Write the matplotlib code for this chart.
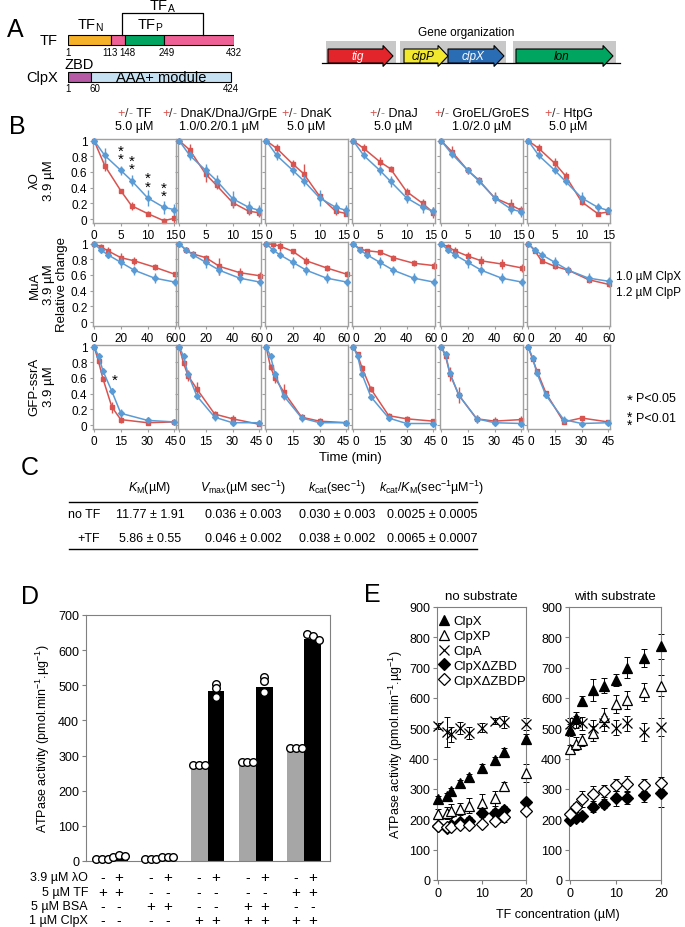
import numpy as np
import matplotlib
matplotlib.use("Agg")
import matplotlib.pyplot as plt
from matplotlib.patches import Rectangle, FancyArrow
from matplotlib.lines import Line2D
from matplotlib.transforms import blended_transform_factory, ScaledTranslation

plt.rcParams['font.family'] = ['Liberation Sans', 'DejaVu Sans']
plt.rcParams['mathtext.fontset'] = 'custom'
plt.rcParams['mathtext.rm'] = 'Liberation Sans'
plt.rcParams['mathtext.it'] = 'Liberation Sans:italic'
plt.rcParams['mathtext.bf'] = 'Liberation Sans:bold'

W, H = 685, 928
RED = '#D9534F'
BLUE = '#5B9BD5'
GRID = '#A0A0A0'

# ---------------- data ----------------
# panel A
tf_bounds = [1, 113, 148, 249, 432]
tf_colors = ['#F6B128', '#EF6196', '#00A560', '#EF6196']
clpx_bounds = [1, 60, 424]
clpx_colors = ['#B65AA6', '#C6E2F2']
gene_names = ['tig', 'clpP', 'clpX', 'lon']
gene_colors = ['#E2242B', '#F2E82E', '#2B6DB5', '#00A560']
gene_text = ['white', 'black', 'white', 'black']
gene_start = [328, 404, 448, 516]
gene_len = [65, 44, 56, 97]
operon_spans = [(326, 396), (400, 506), (513, 616)]

# panel B
chaps = ['TF', 'DnaK/DnaJ/GrpE', 'DnaK', 'DnaJ', 'GroEL/GroES', 'HtpG']
chap_conc = ['5.0 µM', '1.0/0.2/0.1 µM', '5.0 µM', '5.0 µM', '1.0/2.0 µM', '5.0 µM']

lo_t = [0, 2, 5, 7, 10, 13, 15]
lo_minus = [[1, .81, .62, .49, .27, .15, .12],
            [1, .81, .62, .49, .26, .15, .11],
            [1, .81, .62, .49, .27, .15, .11],
            [1, .81, .62, .48, .27, .15, .10],
            [1, .83, .62, .49, .27, .13, .09],
            [1, .81, .62, .48, .27, .15, .11]]
lo_plus = [[1, .68, .36, .17, .07, -.02, .01],
           [1, .88, .57, .43, .21, .10, .08],
           [1, .90, .70, .58, .29, .10, .07],
           [1, .90, .73, .64, .35, .20, .08],
           [1, .86, .62, .50, .27, .18, .11],
           [1, .90, .71, .55, .22, .07, .09]]
lo_minus_err = [[0, .09, .06, .07, .10, .08, .07],
                [0, .06, .08, .07, .10, .08, .07],
                [0, .06, .06, .07, .10, .07, .07],
                [0, .05, .06, .07, .07, .07, .06],
                [0, .05, .04, .05, .06, .06, .06],
                [0, .05, .04, .05, .07, .06, .04]]
lo_plus_err = [[0, .07, .02, .05, .03, .03, .06],
               [0, .07, .10, .05, .07, .05, .05],
               [0, .05, .05, .12, .04, .05, .03],
               [0, .06, .06, .04, .05, .06, .07],
               [0, .07, .04, .04, .07, .08, .06],
               [0, .06, .07, .05, .04, .03, .02]]

mua_t = [0, 5, 10, 20, 30, 45, 60]
mua_minus = [[1, .92, .86, .76, .66, .56, .51]] * 5 + [[1, .92, .86, .76, .66, .56, .52]]
mua_plus = [[1, .96, .91, .82, .78, .70, .61],
            [1, .92, .87, .82, .71, .63, .59],
            [1, .99, .97, .90, .78, .69, .61],
            [1, .93, .91, .89, .82, .75, .72],
            [1, .96, .91, .84, .78, .74, .69],
            [1, .91, .78, .71, .66, .54, .48]]
mua_minus_err = [[0, .03, .04, .07, .06, .06, .05]] * 6
mua_plus_err = [[0, .03, .05, .06, .05, .04, .03],
                [0, .03, .03, .04, .11, .06, .05],
                [0, .01, .06, .03, .05, .04, .04],
                [0, .03, .02, .03, .04, .04, .05],
                [0, .03, .04, .05, .06, .06, .05],
                [0, .02, .03, .04, .03, .03, .03]]

gfp_t = [[0, 2.5, 5, 10, 15, 30, 45]] + [[0, 2.5, 5, 10, 20, 30, 45]] * 5
gfp_minus = [[1, .88, .69, .43, .15, .06, .04],
             [1, .88, .65, .37, .10, .03, .03],
             [1, .88, .65, .37, .09, .03, .03],
             [1, .88, .65, .36, .09, .02, .02],
             [1, .90, .66, .38, .08, .03, .02],
             [1, .86, .66, .38, .07, .02, .03]]
gfp_plus = [[1, .81, .59, .23, .07, .03, .04],
            [1, .79, .63, .46, .14, .08, .01],
            [1, .74, .60, .42, .10, .05, .03],
            [1, .90, .73, .46, .12, .08, .05],
            [1, .88, .65, .38, .08, .05, .07],
            [1, .84, .69, .41, .04, .09, .04]]
gfp_minus_err = [[0, .02, .03, .04, .05, .02, .02],
                 [0, .02, .03, .04, .05, .03, .02],
                 [0, .02, .03, .04, .05, .03, .02],
                 [0, .02, .03, .04, .04, .02, .02],
                 [0, .02, .03, .04, .05, .02, .02],
                 [0, .02, .03, .03, .04, .02, .02]]
gfp_plus_err = [[0, .03, .03, .07, .04, .02, .03],
                [0, .04, .07, .09, .04, .05, .02],
                [0, .04, .06, .10, .04, .04, .02],
                [0, .03, .03, .04, .03, .04, .03],
                [0, .03, .09, .10, .05, .05, .04],
                [0, .02, .03, .03, .02, .02, .02]]

# panel C
tbl_rows = ['no TF', '+TF']
tbl_km = ['11.77 ± 1.91', '5.86 ± 0.55']
tbl_vmax = ['0.036 ± 0.003', '0.046 ± 0.002']
tbl_kcat = ['0.030 ± 0.003', '0.038 ± 0.002']
tbl_eff = ['0.0025 ± 0.0005', '0.0065 ± 0.0007']

# panel D
d_gray = [5, 5, 272, 280, 320]
d_black = [14, 10, 485, 495, 632]
d_gray_pts = [[5, 5, 5], [5, 5, 5], [272, 272, 272], [281, 281, 281], [322, 322, 322]]
d_black_pts = [[12, 16, 14], [10, 11, 11], [503, 493, 467], [525, 513, 481], [646, 640, 629]]
cond_labels = ['3.9 µM λO', '5 µM TF', '5 µM BSA', '1 µM ClpX']
cond_signs = [['-', '+'] * 5,
              ['+', '+', '-', '-', '-', '-', '-', '-', '+', '+'],
              ['-', '-', '+', '+', '-', '-', '+', '+', '-', '-'],
              ['-', '-', '-', '-', '+', '+', '+', '+', '+', '+']]

# panel E
e_names = ['ClpX', 'ClpXP', 'ClpA', 'ClpXΔZBD', 'ClpXΔZBDP']
e_x_no = [0, 2, 3, 5, 7, 10, 13, 15, 20]
e_no = [[267, 278, 292, 320, 339, 369, 394, 422, 466],
        [218, 221, 229, 234, 245, 254, 270, 309, 354],
        [508, 488, 480, 500, 486, 502, 524, 522, 513],
        [177, 173, 181, 190, 196, 221, 221, 232, 256],
        [178, 175, 176, 180, 182, 185, 193, 207, 229]]
e_no_err = [[10, 10, 10, 10, 10, 12, 12, 12, 15],
            [15, 20, 20, 20, 25, 30, 25, 15, 30],
            [10, 50, 25, 20, 20, 15, 10, 20, 20],
            [10, 10, 10, 10, 12, 12, 12, 12, 10],
            [8, 10, 10, 10, 10, 10, 10, 15, 10]]
e_x_with = [0, 1.25, 2.5, 5, 7.5, 10, 12.5, 16.25, 20]
e_with = [[495, 533, 590, 626, 640, 660, 700, 733, 770],
          [431, 450, 461, 483, 538, 579, 594, 619, 641],
          [515, 522, 516, 502, 516, 502, 516, 488, 505],
          [199, 203, 212, 240, 251, 270, 270, 281, 286],
          [218, 240, 267, 284, 292, 312, 317, 314, 320]]
e_with_err = [[20, 20, 15, 35, 25, 20, 35, 30, 40],
              [15, 20, 20, 25, 30, 30, 30, 30, 35],
              [20, 20, 20, 25, 25, 25, 25, 30, 30],
              [8, 10, 10, 15, 15, 25, 20, 25, 45],
              [10, 15, 25, 25, 20, 20, 25, 20, 20]]
e_markers = ['^', '^', 'x', 'D', 'D']
e_fill = ['k', 'white', 'k', 'k', 'white']
e_ms = [7.5, 7.5, 7.5, 6, 6]


def box(l, t, r, b):
    return [l / W, 1 - b / H, (r - l) / W, (b - t) / H]


def ftext(x, y, s, **kw):
    return fig.text(x / W, 1 - y / H, s, **kw)


fig = plt.figure(figsize=(6.85, 9.28), dpi=100)

# ---------------- A ----------------
ftext(15, 30, 'A', fontsize=18, ha='center', va='center')
axa = fig.add_axes(box(68, 0, 234, 100))
axa.set_xlim(1, 432)
axa.set_ylim(100, 0)
axa.axis('off')
for s, e, c in zip(tf_bounds[:-1], tf_bounds[1:], tf_colors):
    axa.add_patch(Rectangle((s, 36), e - s, 10, fc=c, ec='k', lw=0.8))
tf_lab_shift = [0, -4, 8, 8, 0]
for b, d in zip(tf_bounds, tf_lab_shift):
    axa.text(b + d, 53, str(b), fontsize=7, ha='center', va='center')
axa.plot([140, 140, 352, 352], [36, 14, 14, 36], color='k', lw=0.9)
axa.text(246, 7, 'TF$_\\mathrm{A}$', fontsize=10.5, ha='center', va='center')
axa.text(58, 26, 'TF$_\\mathrm{N}$', fontsize=10.5, ha='center', va='center')
axa.text(214, 26, 'TF$_\\mathrm{P}$', fontsize=10.5, ha='center', va='center')
axa.text(-25, 41, 'TF', fontsize=10.5, ha='right', va='center')
for s, e, c in zip(clpx_bounds[:-1], clpx_bounds[1:], clpx_colors):
    axa.add_patch(Rectangle((s, 73), e - s, 10, fc=c, ec='k', lw=0.8))
for b in clpx_bounds:
    axa.text(b if b != 60 else 70, 89, str(b), fontsize=7, ha='center', va='center')
axa.text(-25, 78, 'ClpX', fontsize=10.5, ha='right', va='center')
axa.text(30, 65, 'ZBD', fontsize=10.5, ha='center', va='center')
axa.text(242, 78, 'AAA+ module', fontsize=10.5, ha='center', va='center')

axg = fig.add_axes(box(318, 25, 625, 75))
axg.set_xlim(318, 625)
axg.set_ylim(75, 25)
axg.axis('off')
ftext(466, 33, 'Gene organization', fontsize=8.5, ha='center', va='center')
for l, r in operon_spans:
    axg.add_patch(Rectangle((l, 42), r - l, 22, fc='#C8C8C8', ec='none', zorder=1))
axg.plot([322, 620], [64, 64], color='k', lw=0.9, zorder=2)
for x0, ln, c, nm, tc in zip(gene_start, gene_len, gene_colors, gene_names, gene_text):
    axg.add_patch(FancyArrow(x0, 57, ln, 0, width=14, head_width=21, head_length=10,
                             length_includes_head=True, fc=c, ec='k', lw=0.8, zorder=3))
    axg.text(x0 + (ln - 6) / 2, 57, nm, fontsize=8.5, style='italic', color=tc,
             ha='center', va='center', zorder=4)

# ---------------- B ----------------
ftext(17, 127, 'B', fontsize=18, ha='center', va='center')
col_left = [93, 178, 265, 352, 440, 527]
col_w = 83
row_top = [140, 243, 346]
row_h = 84
row_ts = [[lo_t] * 6, [mua_t] * 6, gfp_t]
row_minus = [lo_minus, mua_minus, gfp_minus]
row_plus = [lo_plus, mua_plus, gfp_plus]
row_minus_err = [lo_minus_err, mua_minus_err, gfp_minus_err]
row_plus_err = [lo_plus_err, mua_plus_err, gfp_plus_err]
row_xlim = [(-0.2, 15.3), (-0.8, 61), (-0.6, 46)]
row_xticks = [[0, 5, 10, 15], [0, 20, 40, 60], [0, 15, 30, 45]]
axes_b = []
for r in range(3):
    row_axes = []
    for c in range(6):
        ax = fig.add_axes(box(col_left[c], row_top[r], col_left[c] + col_w, row_top[r] + row_h))
        t = row_ts[r][c]
        ax.errorbar(t, row_minus[r][c], yerr=row_minus_err[r][c], color=BLUE, marker='D',
                    ms=3, lw=1.1, elinewidth=1, capsize=0, zorder=3, clip_on=False)
        ax.errorbar(t, row_plus[r][c], yerr=row_plus_err[r][c], color=RED, marker='s',
                    ms=3.3, lw=1.1, elinewidth=1, capsize=0, zorder=2, clip_on=False)
        ax.set_xlim(*row_xlim[r])
        ax.set_ylim(-0.05, 1.02)
        ax.set_xticks(row_xticks[r])
        ax.set_yticks([0, 0.2, 0.4, 0.6, 0.8, 1])
        ax.set_yticklabels(['0', '0.2', '0.4', '0.6', '0.8', '1'])
        for sp in ax.spines.values():
            sp.set_color(GRID)
            sp.set_linewidth(1)
        ax.tick_params(colors=GRID, labelcolor='k', labelsize=8.5, length=2.5, width=0.8, pad=1.5)
        if c > 0:
            ax.tick_params(labelleft=False)
        # nudge the end labels so neighbouring panels do not collide
        xlabs = ax.get_xticklabels()
        if c > 0:
            xlabs[0].set_transform(xlabs[0].get_transform() + ScaledTranslation(2.5 / 100, 0, fig.dpi_scale_trans))
        if c < 5:
            xlabs[-1].set_transform(xlabs[-1].get_transform() + ScaledTranslation(-2.5 / 100, 0, fig.dpi_scale_trans))
        row_axes.append(ax)
    axes_b.append(row_axes)

# significance stars
ax0 = axes_b[0][0]
for i in [2, 3, 4, 5]:
    ax0.text(lo_t[i], lo_minus[0][i] + 0.2, '*\n*', fontsize=11, ha='center', va='center',
             linespacing=0.5)
axes_b[2][0].text(gfp_t[0][3] + 1.5, gfp_minus[0][3] + 0.15, '*', fontsize=11, ha='center', va='center')

# column titles
title_groups = []
for c in range(6):
    cx = col_left[c] + col_w / 2
    pieces = [('+', RED), ('/', '#333333'), ('-', BLUE), (' ' + chaps[c], 'k')]
    texts = [ftext(cx, 117, s, color=col, fontsize=9, ha='left', va='baseline') for s, col in pieces]
    title_groups.append((cx, texts))
    ftext(cx, 127, chap_conc[c], fontsize=9, ha='center', va='center')

# row labels
ftext(42, 181, 'λO\n3.9 µM', fontsize=9.5, rotation=90, ha='center', va='center', linespacing=1.3)
ftext(42, 285, 'MuA\n3.9 µM', fontsize=9.5, rotation=90, ha='center', va='center', linespacing=1.3)
ftext(42, 387, 'GFP-ssrA\n3.9 µM', fontsize=9.5, rotation=90, ha='center', va='center', linespacing=1.3)
ftext(62, 285, 'Relative change', fontsize=9.5, rotation=90, ha='center', va='center')
ftext(350, 458, 'Time (min)', fontsize=9.5, ha='center', va='center')
ftext(616, 285, '1.0 µM ClpX\n1.2 µM ClpP', fontsize=8.5, ha='left', va='center', linespacing=1.35)
ftext(630, 401, '*', fontsize=11, ha='center', va='center')
ftext(636, 399, 'P<0.05', fontsize=9, ha='left', va='center')
ftext(630, 422, '*\n*', fontsize=10, ha='center', va='center', linespacing=0.5)
ftext(636, 419, 'P<0.01', fontsize=9, ha='left', va='center')

# ---------------- C ----------------
ftext(30, 468, 'C', fontsize=18, ha='center', va='center')
axc = fig.add_axes(box(0, 470, 685, 560))
axc.set_xlim(0, 685)
axc.set_ylim(560, 470)
axc.axis('off')
col_cx = [150, 243, 337, 432]
headers = ['$K_\\mathrm{M}$(µM)', '$V_\\mathrm{max}$(µM sec$^{-1}$)',
           '$k_\\mathrm{cat}$(sec$^{-1}$)', '$k_\\mathrm{cat}$/$K_\\mathrm{M}$(sec$^{-1}$µM$^{-1}$)']
for x, h in zip(col_cx, headers):
    axc.text(x, 488, h, fontsize=9, ha='center', va='center')
axc.plot([69, 477], [503, 503], color='k', lw=1)
axc.plot([69, 477], [550, 550], color='k', lw=1)
for i, y in enumerate([515, 539]):
    axc.text(100, y, tbl_rows[i], fontsize=9, ha='right', va='center')
    for x, col in zip(col_cx, [tbl_km, tbl_vmax, tbl_kcat, tbl_eff]):
        axc.text(x, y, col[i], fontsize=9, ha='center', va='center')

# ---------------- D ----------------
ftext(30, 597, 'D', fontsize=18, ha='center', va='center')
axd = fig.add_axes(box(86, 616, 330, 862))
xg = np.arange(5)
bw = 0.35
axd.bar(xg - bw / 2, d_gray, bw, color='#A6A6A6', zorder=1)
axd.bar(xg + bw / 2, d_black, bw, color='k', zorder=1)
for xs, pts_list in [(xg - bw / 2, d_gray_pts), (xg + bw / 2, d_black_pts)]:
    for x, pts in zip(xs, pts_list):
        if max(pts) - min(pts) < 20:
            offs = [-0.12, 0, 0.12]
        else:
            offs = [0, 0, 0]
        axd.plot([x + o for o in offs], pts, 'o', mfc='white', mec='k', ms=5.5, mew=1,
                 zorder=3, clip_on=False)
axd.set_xlim(-0.51, 4.53)
axd.set_ylim(0, 700)
axd.set_yticks(range(0, 701, 100))
axd.tick_params(axis='x', bottom=False, labelbottom=False)
axd.tick_params(axis='y', colors='#808080', labelcolor='k', labelsize=9, length=3, pad=2)
for sp in axd.spines.values():
    sp.set_color('#808080')
axd.set_ylabel('ATPase activity (pmol.min$^{-1}$.µg$^{-1}$)', fontsize=9, labelpad=4)
tr = blended_transform_factory(axd.transData, fig.transFigure)
bar_x = np.ravel(np.column_stack([xg - bw / 2, xg + bw / 2]))
for lab, signs, y in zip(cond_labels, cond_signs, [878, 893, 907, 921]):
    ftext(88, y, lab, fontsize=9, ha='right', va='center')
    for x, s in zip(bar_x, signs):
        axd.text(x, 1 - y / H, s, transform=tr, fontsize=11 if s == '+' else 10,
                 ha='center', va='center')

# ---------------- E ----------------
ftext(372, 595, 'E', fontsize=18, ha='center', va='center')
axe1 = fig.add_axes(box(437, 608, 526, 881))
axe2 = fig.add_axes(box(569, 608, 661, 881))
for ax, xs, ys, errs, ttl in [(axe1, e_x_no, e_no, e_no_err, 'no substrate'),
                              (axe2, e_x_with, e_with, e_with_err, 'with substrate')]:
    for k in range(5):
        ax.errorbar(xs, ys[k], yerr=errs[k], fmt='none', ecolor='k', elinewidth=0.7,
                    capsize=2, capthick=0.7, zorder=2, clip_on=False)
        ax.plot(xs, ys[k], ls='none', marker=e_markers[k], mfc=e_fill[k], mec='k',
                color='k', ms=e_ms[k], mew=0.9, zorder=3, clip_on=False)
    ax.set_xlim(-0.3, 20)
    ax.set_ylim(0, 900)
    ax.set_xticks([0, 10, 20])
    ax.set_yticks(range(0, 901, 100))
    ax.tick_params(colors='#808080', labelcolor='k', labelsize=9, length=3, pad=2)
    for sp in ax.spines.values():
        sp.set_color('#808080')
    ax.set_title(ttl, fontsize=9.5, pad=6)
axe1.set_ylabel('ATPase activity (pmol.min$^{-1}$.µg$^{-1}$)', fontsize=9, labelpad=3)
ftext(558, 915, 'TF concentration (µM)', fontsize=9, ha='center', va='center')
handles = [Line2D([], [], ls='none', marker=e_markers[k], mfc=e_fill[k], mec='k', color='k',
                  ms=e_ms[k], mew=0.9) for k in range(5)]
axe1.legend(handles, e_names, loc='upper left', bbox_to_anchor=(0.02, 0.97), frameon=False,
            fontsize=9.5, handlelength=0.8, handletextpad=0.3, labelspacing=0.2, borderaxespad=0,
            borderpad=0)

# arrange the multi-coloured column titles
fig.canvas.draw()
rend = fig.canvas.get_renderer()
for cx, texts in title_groups:
    widths = [t.get_window_extent(rend).width for t in texts]
    x = cx - sum(widths) / 2
    for t, w in zip(texts, widths):
        t.set_x(x / W)
        x += w

fig.savefig('out.png', dpi=100)
